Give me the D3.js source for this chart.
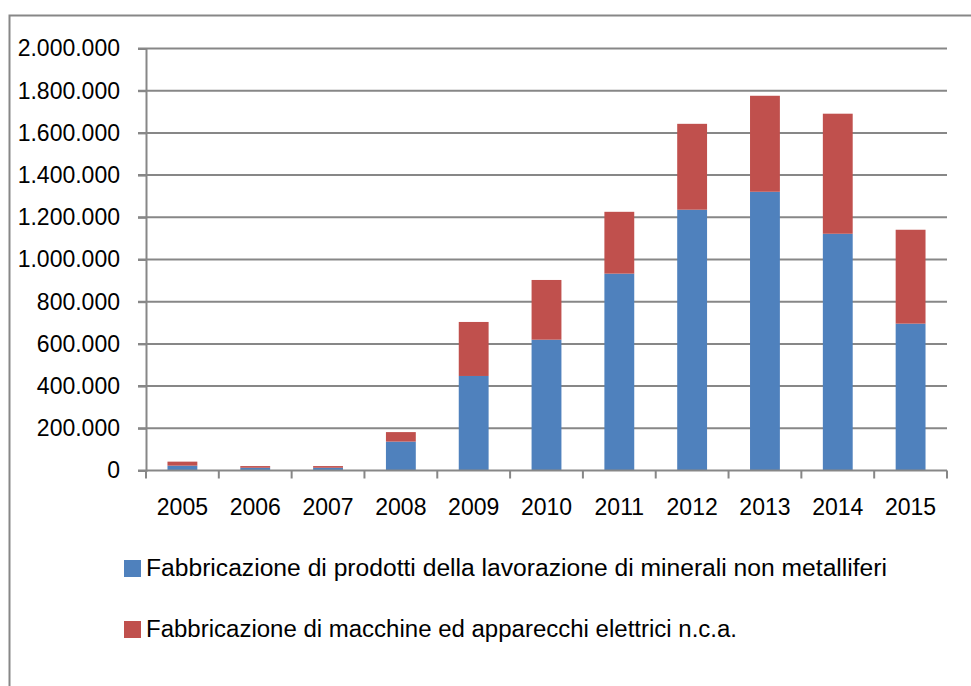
<!DOCTYPE html>
<html>
<head>
<meta charset="utf-8">
<script src="https://cdn.jsdelivr.net/npm/d3@7"></script>
<style>
  body { margin: 0; background: #fff; }
  text { font-family: "Liberation Sans", Arial, sans-serif; fill: #000; }
</style>
</head>
<body>
<svg id="chart"></svg>
<script>
const years = ["2005", "2006", "2007", "2008", "2009", "2010", "2011", "2012", "2013", "2014", "2015"]
const minerali = [23000, 13000, 13000, 137000, 448000, 620000, 933000, 1236000, 1321000, 1122000, 696000]
const macchine = [19000, 8000, 8000, 45000, 256000, 283000, 293000, 407000, 455000, 569000, 445000]
const yTicks = [0, 200000, 400000, 600000, 800000, 1000000, 1200000, 1400000, 1600000, 1800000, 2000000]
const seriesNames = [
    "Fabbricazione di prodotti della lavorazione di minerali non metalliferi",
    "Fabbricazione di macchine ed apparecchi elettrici n.c.a."
]
const colors = ["#4F81BD", "#C0504D"]

const
    width = 971,
    height = 686,
    margin = { top: 49, right: 24, bottom: 215, left: 146 },
    grey = "#878787"

const table = years.map((y, i) => ({ year: y, minerali: minerali[i], macchine: macchine[i] }))
const stacked = d3.stack().keys(["minerali", "macchine"])(table)

const x = d3.scaleBand()
    .domain(years)
    .range([margin.left, width - margin.right])
    .paddingInner(0.59)
    .paddingOuter(0.295)

const xOuter = d3.scaleBand()
    .domain(years)
    .range([margin.left, width - margin.right])

const y = d3.scaleLinear()
    .domain([0, 2000000])
    .range([height - margin.bottom - 0.5, margin.top - 0.5])

const fmt = v => d3.format(",")(v).replace(/,/g, ".")

const svg = d3.select("#chart")
    .attr("width", width)
    .attr("height", height)

// outer chart frame
svg.append("rect")
    .attr("x", 9.5).attr("y", 15.5)
    .attr("width", 980).attr("height", 700)
    .attr("fill", "none")
    .attr("stroke", grey)
    .attr("stroke-width", 2)

// gridlines
svg.append("g")
    .attr("class", "grid")
    .selectAll("line")
    .data(yTicks.slice(1))
    .join("line")
    .attr("x1", margin.left - 8)
    .attr("x2", width - margin.right)
    .attr("y1", d => y(d))
    .attr("y2", d => y(d))
    .attr("stroke", grey)
    .attr("stroke-width", 2)

// bars
svg.append("g")
    .attr("class", "bars")
    .selectAll("g")
    .data(stacked)
    .join("g")
    .attr("fill", (d, i) => colors[i])
    .selectAll("rect")
    .data(d => d)
    .join("rect")
    .attr("x", d => x(d.data.year))
    .attr("y", d => y(d[1]))
    .attr("height", d => y(d[0]) - y(d[1]))
    .attr("width", x.bandwidth())

// y axis
const yAxis = svg.append("g")
    .attr("transform", `translate(${margin.left},0)`)
    .call(d3.axisLeft(y).tickValues(yTicks).tickFormat(fmt).tickSizeOuter(0).tickSize(8).tickPadding(18))
yAxis.selectAll("path, line").attr("stroke", grey).attr("stroke-width", 2)
yAxis.selectAll("text").attr("font-size", 23).attr("font-family", "Liberation Sans, Arial, sans-serif").attr("fill", "#000")

// x axis with ticks at category boundaries
const base = y(0)
const xAxis = svg.append("g")
xAxis.append("line")
    .attr("x1", margin.left - 8).attr("x2", width - margin.right)
    .attr("y1", base).attr("y2", base)
    .attr("stroke", grey).attr("stroke-width", 2)
xAxis.selectAll(".tick")
    .data(years.concat(["end"]))
    .join("line")
    .attr("x1", d => d === "end" ? xOuter.range()[1] : xOuter(d))
    .attr("x2", d => d === "end" ? xOuter.range()[1] : xOuter(d))
    .attr("y1", base).attr("y2", base + 8)
    .attr("stroke", grey).attr("stroke-width", 2)
xAxis.selectAll("text")
    .data(years)
    .join("text")
    .attr("x", d => xOuter(d) + xOuter.bandwidth() / 2)
    .attr("y", 515)
    .attr("text-anchor", "middle")
    .attr("font-size", 23)
    .text(d => d)

// legend
const legend = svg.append("g")
    .selectAll("g")
    .data(seriesNames)
    .join("g")
    .attr("transform", (d, i) => `translate(124,${560 + i * 61})`)
legend.append("rect")
    .attr("width", 17).attr("height", 17)
    .attr("fill", (d, i) => colors[i])
legend.append("text")
    .attr("x", 22)
    .attr("y", 16)
    .attr("font-size", 23)
    .attr("textLength", (d, i) => [741, 591][i])
    .attr("lengthAdjust", "spacingAndGlyphs")
    .text(d => d)
</script>
</body>
</html>
